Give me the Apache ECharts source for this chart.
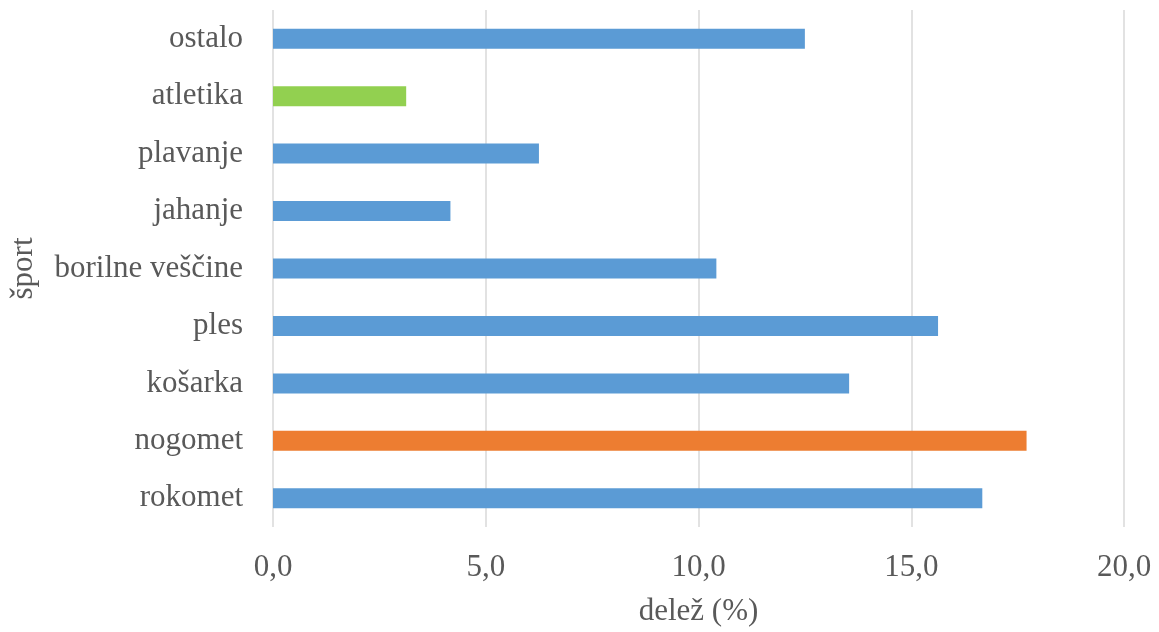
<!DOCTYPE html>
<html>
<head>
<meta charset="utf-8">
<script src="https://cdn.jsdelivr.net/npm/echarts@6/dist/echarts.min.js"></script>
<style>
  html, body { margin: 0; padding: 0; background: #ffffff; }
  #chart { width: 1159px; height: 632px; }
</style>
</head>
<body>
<div id="chart"></div>
<script>
// Share of respondents by sport (%), listed bottom to top
const sports = ['rokomet', 'nogomet', 'košarka', 'ples', 'borilne veščine', 'jahanje', 'plavanje', 'atletika', 'ostalo'];
const shares = [16.67, 17.71, 13.54, 15.63, 10.42, 4.17, 6.25, 3.13, 12.5];
const barColors = ['#5B9BD5', '#ED7D31', '#5B9BD5', '#5B9BD5', '#5B9BD5', '#5B9BD5', '#5B9BD5', '#92D050', '#5B9BD5'];
const xTicks = { min: 0, max: 20, interval: 5 };

const textColor = '#595959';
const fontFamily = '"Liberation Serif", "Times New Roman", serif';

const chart = echarts.init(document.getElementById('chart'));
chart.setOption({
  animation: false,
  grid: { left: 271, right: 35, top: 10, bottom: 105, containLabel: false },
  xAxis: {
    type: 'value',
    min: xTicks.min,
    max: xTicks.max,
    interval: xTicks.interval,
    name: 'delež (%)',
    nameLocation: 'middle',
    nameGap: 69,
    nameTextStyle: { color: textColor, fontSize: 31, fontFamily: fontFamily },
    axisLine: { show: false },
    axisTick: { show: false },
    axisLabel: {
      color: textColor, fontSize: 31, fontFamily: fontFamily, margin: 25,
      formatter: v => v.toFixed(1).replace('.', ',')
    },
    splitLine: { show: true, lineStyle: { color: '#d9d9d9', width: 1.5 } }
  },
  yAxis: {
    type: 'category',
    data: sports,
    name: 'šport',
    nameLocation: 'middle',
    nameRotate: 90,
    nameGap: 234,
    nameTextStyle: { color: textColor, fontSize: 31, fontFamily: fontFamily },
    axisLine: { show: false },
    axisTick: { show: false },
    axisLabel: { color: textColor, fontSize: 31, fontFamily: fontFamily, margin: 30 },
    splitLine: { show: false }
  },
  series: [{
    type: 'bar',
    barWidth: 20,
    data: shares.map((v, i) => ({ value: v, itemStyle: { color: barColors[i] } }))
  }]
});
</script>
</body>
</html>
